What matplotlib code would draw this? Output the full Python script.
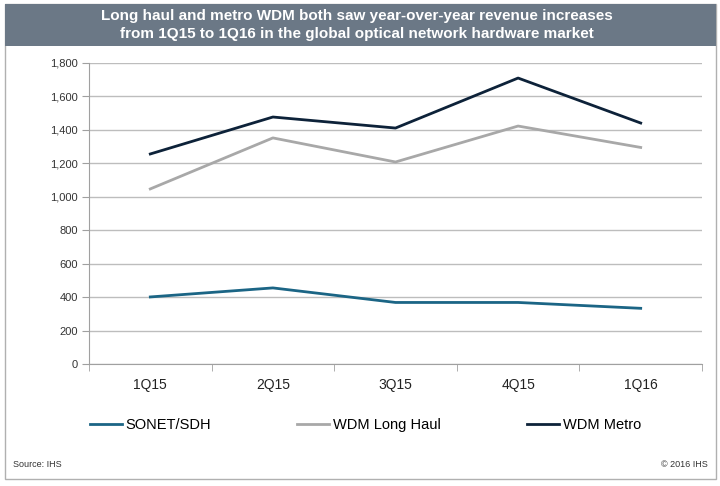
import numpy as np
import matplotlib
matplotlib.use('Agg')
import matplotlib.pyplot as plt
from matplotlib.patches import Rectangle
from matplotlib.ticker import FuncFormatter

plt.rcParams['font.family'] = ['Liberation Sans', 'DejaVu Sans']

quarters = ['1Q15', '2Q15', '3Q15', '4Q15', '1Q16']
sonet = [401, 455, 368, 368, 333]
wdm_long_haul = [1047, 1352, 1208, 1423, 1295]
wdm_metro = [1256, 1477, 1411, 1710, 1441]

W, H = 720, 486
fig = plt.figure(figsize=(W / 100, H / 100), dpi=100)
fig.patch.set_facecolor('white')

# outer frame and title banner
fig.patches.append(Rectangle((5 / W, 1 - 479 / H), 711 / W, 475 / H, transform=fig.transFigure,
                             facecolor='none', edgecolor='#b0b0b0', lw=1, zorder=0))
fig.patches.append(Rectangle((5 / W, 1 - 46 / H), 711 / W, 42 / H, transform=fig.transFigure,
                             facecolor='#6b7886', edgecolor='none', zorder=1))
fig.text(357 / W, 1 - 25 / H,
         'Long haul and metro WDM both saw year-over-year revenue increases\n'
         'from 1Q15 to 1Q16 in the global optical network hardware market',
         ha='center', va='center', color='white', fontsize=11, fontweight='bold',
         linespacing=1.3)

ax = fig.add_axes([89 / W, 1 - 364 / H, (702 - 89) / W, (364 - 63) / H])
x = np.arange(len(quarters))
ax.plot(x, sonet, color='#1b6585', lw=2.0, label='SONET/SDH', zorder=3)
ax.plot(x, wdm_long_haul, color='#a8a8a8', lw=2.0, label='WDM Long Haul', zorder=3)
ax.plot(x, wdm_metro, color='#0d2239', lw=2.0, label='WDM Metro', zorder=3)

ax.set_xlim(-0.5, len(quarters) - 0.5)
ax.set_ylim(0, 1800)
ax.set_yticks(np.arange(0, 1801, 200))
ax.yaxis.set_major_formatter(FuncFormatter(lambda v, p: f'{int(v):,}'))
ax.set_xticks(x)
ax.set_xticklabels(quarters)
ax.set_xticks(np.arange(-0.5, len(quarters), 1), minor=True)
ax.tick_params(axis='x', which='major', length=0, pad=10, labelsize=10, labelcolor='#222222')
ax.tick_params(axis='x', which='minor', length=5, color='#a0a0a0', direction='out')
ax.tick_params(axis='y', length=5, color='#a0a0a0', labelsize=8, labelcolor='#333333', pad=3)
ax.grid(axis='y', color='#bdbdbd', lw=1)
ax.set_axisbelow(True)
for s in ['top', 'right']:
    ax.spines[s].set_visible(False)
for s in ['left', 'bottom']:
    ax.spines[s].set_color('#a0a0a0')

fig.legend(loc='center left', bbox_to_anchor=(90 / W, 1 - 425 / H), ncol=3, frameon=False,
           fontsize=10.5, handlelength=2.2, handletextpad=0.25, columnspacing=5.9,
           borderaxespad=0, borderpad=0)

fig.text(13 / W, 1 - 464 / H, 'Source: IHS', fontsize=6.5, color='#333333', va='center')
fig.text(708 / W, 1 - 464 / H, '\u00a9 2016 IHS', fontsize=6.5, color='#333333', va='center', ha='right')

fig.savefig('out.png', dpi=100)
